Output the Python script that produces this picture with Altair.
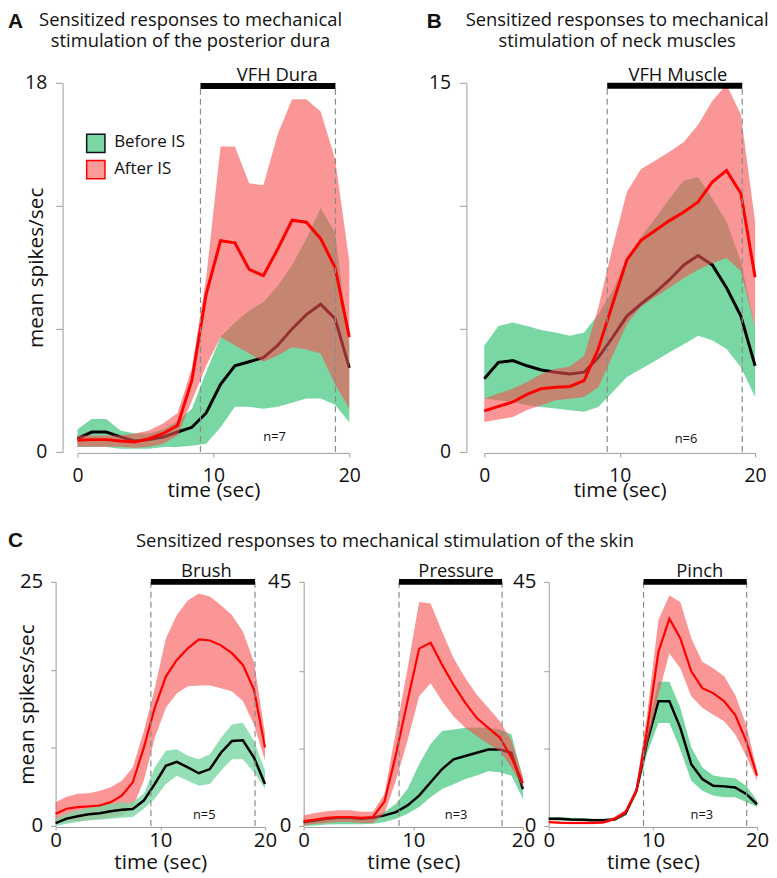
import altair as alt
import pandas as pd

# sample times (20 bins over 0-20 s)
TIME = [0.0, 1.05, 2.11, 3.16, 4.21, 5.26, 6.32, 7.37, 8.42, 9.47,
        10.53, 11.58, 12.63, 13.68, 14.74, 15.79, 16.84, 17.89, 18.95, 20.0]

# ---- Panel A: posterior dura ----
A_BEFORE_MEAN = [0.65, 0.97, 0.97, 0.73, 0.53, 0.6, 0.73, 0.97, 1.2, 1.9, 3.3, 4.2, 4.4, 4.6, 5.2, 6.0, 6.7, 7.2, 6.5, 4.1]
A_BEFORE_LO = [0.24, 0.24, 0.24, 0.16, 0.16, 0.16, 0.24, 0.24, 0.3, 0.4, 1.2, 2.2, 2.2, 2.1, 2.2, 2.4, 2.6, 2.6, 2.3, 1.45]
A_BEFORE_HI = [1.1, 1.6, 1.6, 1.05, 0.9, 0.9, 1.1, 1.5, 2.1, 3.9, 5.6, 6.3, 6.9, 7.3, 8.1, 9.1, 10.4, 11.9, 10.7, 5.2]
A_AFTER_MEAN = [0.57, 0.6, 0.6, 0.53, 0.48, 0.65, 0.9, 1.3, 3.5, 7.7, 10.3, 10.2, 8.9, 8.6, 9.9, 11.3, 11.2, 10.4, 9.0, 5.6]
A_AFTER_LO = [0.25, 0.25, 0.25, 0.25, 0.2, 0.25, 0.4, 0.8, 2.5, 4.2, 5.6, 5.2, 4.8, 4.4, 4.7, 5.1, 5.0, 4.8, 3.3, 2.1]
A_AFTER_HI = [0.8, 0.8, 0.8, 0.8, 0.9, 1.05, 1.4, 1.9, 4.1, 8.5, 14.9, 14.9, 13.1, 13.0, 15.5, 17.2, 17.2, 16.6, 14.3, 9.3]

# ---- Panel B: neck muscles ----
B_BEFORE_MEAN = [2.97, 3.64, 3.71, 3.5, 3.33, 3.24, 3.17, 3.24, 3.84, 4.65, 5.52, 6.02, 6.47, 7.0, 7.6, 7.98, 7.6, 6.67, 5.52, 3.5]
B_BEFORE_LO = [2.16, 2.1, 2.03, 1.9, 1.83, 1.76, 1.69, 1.63, 1.83, 2.43, 3.04, 3.37, 3.71, 4.05, 4.38, 4.72, 4.54, 4.18, 3.44, 2.23]
B_BEFORE_HI = [4.31, 5.12, 5.26, 5.12, 4.95, 4.85, 4.72, 4.85, 5.6, 6.53, 7.88, 8.75, 9.49, 10.3, 11.03, 11.17, 10.3, 9.35, 7.74, 5.05]
B_AFTER_MEAN = [1.67, 1.85, 2.03, 2.34, 2.57, 2.63, 2.66, 2.9, 4.18, 6.0, 7.8, 8.6, 9.0, 9.4, 9.75, 10.16, 10.97, 11.44, 10.5, 7.1]
B_AFTER_LO = [1.22, 1.32, 1.42, 1.7, 1.9, 2.1, 2.16, 2.23, 2.63, 3.9, 5.2, 5.9, 6.3, 6.67, 7.07, 7.4, 7.67, 7.88, 7.34, 5.05]
B_AFTER_HI = [2.16, 2.37, 2.57, 2.84, 3.17, 3.37, 3.47, 3.9, 5.86, 8.3, 10.56, 11.5, 11.84, 12.2, 12.6, 13.3, 14.26, 14.93, 13.7, 9.35]

# ---- Panel C: skin - Brush ----
BR_BEFORE_MEAN = [0.3, 0.75, 1.0, 1.2, 1.3, 1.5, 1.66, 1.73, 2.6, 4.3, 6.17, 6.57, 6.0, 5.4, 5.83, 7.5, 8.7, 8.77, 7.0, 4.3]
BR_BEFORE_LO = [0.0, 0.24, 0.4, 0.58, 0.64, 0.75, 0.85, 0.91, 1.76, 2.78, 4.3, 5.15, 4.64, 4.13, 4.3, 5.66, 6.84, 6.84, 5.5, 3.8]
BR_BEFORE_HI = [0.75, 1.25, 1.6, 1.86, 2.07, 2.27, 2.4, 2.44, 3.3, 6.0, 7.7, 7.86, 7.18, 6.84, 7.35, 9.0, 10.4, 10.57, 8.7, 5.66]
BR_AFTER_MEAN = [1.25, 1.76, 1.93, 2.0, 2.1, 2.44, 3.1, 4.47, 8.0, 12.1, 15.3, 17.0, 18.2, 19.1, 19.0, 18.5, 17.7, 16.5, 13.96, 8.03]
BR_AFTER_LO = [0.24, 0.4, 0.5, 0.58, 0.75, 0.9, 1.08, 1.93, 4.64, 9.0, 12.1, 13.6, 14.3, 14.4, 14.4, 14.1, 13.8, 12.8, 10.4, 6.7]
BR_AFTER_HI = [2.44, 3.0, 3.3, 3.35, 3.6, 3.96, 4.64, 6.0, 9.7, 14.1, 19.2, 21.6, 23.1, 23.8, 23.5, 22.6, 21.6, 19.9, 16.8, 9.5]

# ---- Panel C: skin - Pressure ----
PR_BEFORE_MEAN = [0.67, 1.0, 1.34, 1.5, 1.5, 1.34, 1.5, 1.95, 2.56, 3.8, 5.6, 8.05, 10.5, 12.3, 12.9, 13.5, 14.1, 14.1, 13.5, 6.8]
PR_BEFORE_LO = [0.0, 0.1, 0.25, 0.3, 0.3, 0.3, 0.43, 0.73, 1.34, 2.26, 3.5, 5.3, 6.8, 7.7, 8.66, 9.3, 10.1, 9.9, 9.3, 5.0]
PR_BEFORE_HI = [0.9, 1.3, 1.65, 1.77, 1.77, 1.65, 1.77, 2.56, 4.1, 6.8, 11.4, 15.1, 17.5, 17.8, 18.1, 18.1, 18.1, 17.8, 16.9, 8.7]
PR_AFTER_MEAN = [0.9, 1.2, 1.5, 1.65, 1.65, 1.5, 1.65, 4.5, 13.2, 23.0, 32.7, 33.8, 29.7, 26.0, 22.7, 19.9, 18.1, 16.3, 12.6, 7.9]
PR_AFTER_LO = [0.1, 0.4, 0.55, 0.73, 0.73, 0.55, 0.55, 2.3, 8.4, 15.7, 23.9, 26.3, 23.0, 20.2, 18.1, 16.6, 15.1, 13.8, 10.8, 7.1]
PR_AFTER_HI = [2.0, 2.4, 2.7, 2.9, 2.9, 2.6, 2.6, 5.9, 17.5, 29.0, 41.3, 41.0, 35.8, 30.9, 27.3, 24.2, 21.8, 19.3, 15.7, 9.0]

# ---- Panel C: skin - Pinch ----
PI_BEFORE_MEAN = [1.34, 1.34, 1.2, 1.16, 1.04, 1.04, 1.2, 2.26, 6.5, 15.7, 23.0, 23.0, 18.1, 11.4, 8.66, 7.4, 7.3, 7.1, 5.9, 4.0]
PI_BEFORE_LO = [1.1, 0.95, 0.9, 0.85, 0.8, 0.8, 0.9, 1.9, 5.8, 13.5, 19.0, 19.0, 14.1, 8.35, 6.5, 5.6, 5.3, 5.3, 4.4, 3.5]
PI_BEFORE_HI = [1.6, 1.6, 1.5, 1.45, 1.35, 1.35, 1.5, 2.6, 7.3, 18.0, 26.6, 26.6, 21.8, 14.5, 10.8, 9.3, 9.0, 8.8, 7.4, 4.7]
PI_AFTER_MEAN = [0.73, 0.6, 0.55, 0.55, 0.55, 0.65, 1.34, 2.56, 6.5, 18.1, 32.1, 38.2, 34.6, 28.5, 25.4, 24.5, 23.0, 20.5, 15.7, 9.3]
PI_AFTER_LO = [0.45, 0.35, 0.3, 0.3, 0.3, 0.4, 1.0, 2.1, 5.8, 15.0, 24.2, 31.8, 29.1, 23.9, 21.8, 20.5, 19.3, 16.9, 12.9, 8.35]
PI_AFTER_HI = [1.0, 0.85, 0.8, 0.8, 0.8, 0.9, 1.7, 3.0, 7.3, 21.0, 38.0, 42.5, 41.3, 34.6, 30.3, 29.1, 27.6, 24.2, 18.7, 10.2]

# stimulus windows: start, end, label, label centre, n label, n x, n y
STIM = {
    "A": (9.05, 18.98, "VFH Dura", 14.7, "n=7", 14.5, 0.73),
    "B": (9.08, 19.05, "VFH Muscle", 14.3, "n=6", 14.9, 0.52),
    "BR": (9.1, 19.05, "Brush", 14.4, "n=5", 14.2, 1.1),
    "PR": (8.7, 18.1, "Pressure", 13.9, "n=3", 13.9, 2.0),
    "PI": (9.1, 19.0, "Pinch", 14.5, "n=3", 14.7, 2.0),
}

TITLE_A = ["Sensitized responses to mechanical", "stimulation of the posterior dura"]
TITLE_B = ["Sensitized responses to mechanical", "stimulation of neck muscles"]
TITLE_C = "Sensitized responses to mechanical stimulation of the skin"
LEGEND = ["Before IS", "After IS"]

GREEN = "#79d7a3"
PINK = "#f75050"
PINK_SOLID = "#fa9a9a"
RED = "#ff0000"
AXIS_GRAY = "#9c9c9c"
DASH_GRAY = "#8a8a8a"
TXT = "#111111"
FONT = "Open Sans"
BOLD_FONT = "Liberation Sans"

ONE = pd.DataFrame({"k": [0]})


def text_layer(x, y, text, size, align="center", baseline="top", weight="normal",
               font=FONT, line_height=None):
    kw = dict(align=align, baseline=baseline, fontSize=size, fontWeight=weight,
              font=font, color=TXT)
    if line_height is not None:
        kw["lineHeight"] = line_height
    return alt.Chart(ONE).mark_text(**kw).encode(
        x=alt.value(x), y=alt.value(y), text=alt.value(text))


def panel(bm, blo, bhi, am, alo, ahi, ymax, yticks, stim_key, width, height,
          yoff, ytick, ylabpad, ytitle_x, xtick, xlabpad, xtitle_y, line_w,
          black_w, stim_y, label_size, green_on_top=False, extras=()):
    df = pd.DataFrame({"t": TIME, "bm": bm, "blo": blo, "bhi": bhi,
                       "am": am, "alo": alo, "ahi": ahi})
    xs = alt.Scale(domain=[0, 20], nice=False, zero=False)
    ys = alt.Scale(domain=[0, ymax], nice=False, zero=True)
    xaxis = alt.Axis(values=[0, 10, 20], title="time (sec)", offset=1,
                     tickSize=xtick, labelPadding=xlabpad, labelFlush=False,
                     labelOverlap=False, labelFontSize=label_size,
                     labelBaseline="alphabetic", titleBaseline="alphabetic",
                     titleY=xtitle_y)
    ykw = dict(values=yticks, offset=yoff, tickSize=ytick, labelPadding=ylabpad,
               labelFlush=False, labelOverlap=False, labelFontSize=label_size,
               labelExpr=f"datum.value == 0 || datum.value == {ymax} ? datum.label : ''")
    if ytitle_x is not None:
        ykw.update(title="mean spikes/sec", titleX=ytitle_x, titleY=height / 2)
    else:
        ykw["title"] = ""
    yaxis = alt.Axis(**ykw)

    def X(f):
        return alt.X(f, scale=xs, axis=xaxis)

    def Y(f):
        return alt.Y(f, scale=ys, axis=yaxis)

    base = alt.Chart(df)
    green = base.mark_area(color=GREEN, opacity=0.8 if green_on_top else 1).encode(
        x=X("t:Q"), y=Y("blo:Q"), y2="bhi:Q")
    pink = base.mark_area(color=PINK, opacity=0.6).encode(
        x=X("t:Q"), y=Y("alo:Q"), y2="ahi:Q")
    black = base.mark_line(color="black", strokeWidth=black_w).encode(
        x=X("t:Q"), y=Y("bm:Q"))
    red = base.mark_line(color=RED, strokeWidth=line_w).encode(
        x=X("t:Q"), y=Y("am:Q"))

    s0, s1, slabel, lx, ntext, nx, ny = STIM[stim_key]
    stim = pd.DataFrame({"x": [s0], "x2": [s1], "y": [stim_y], "lx": [lx],
                         "label": [slabel], "nx": [nx], "ny": [ny], "n": [ntext]})
    dash = pd.DataFrame({"x": [s0, s1], "y0": [0, 0], "y1": [stim_y, stim_y]})
    dashes = alt.Chart(dash).mark_rule(color=DASH_GRAY, strokeWidth=1.2,
                                       strokeDash=[6, 4]).encode(
        x=X("x:Q"), y=Y("y0:Q"), y2="y1:Q")
    bar = alt.Chart(stim).mark_rule(color="black", strokeWidth=6).encode(
        x=X("x:Q"), x2="x2:Q", y=Y("y:Q"))
    lab = alt.Chart(stim).mark_text(baseline="alphabetic", dy=-5, fontSize=18.5,
                                    font=FONT, color=TXT).encode(
        x=X("lx:Q"), y=Y("y:Q"), text="label:N")
    nlab = alt.Chart(stim).mark_text(baseline="middle", fontSize=13,
                                     font=FONT, color=TXT).encode(
        x=X("nx:Q"), y=Y("ny:Q"), text="n:N")

    if green_on_top:
        layers = [pink, green, black, red]
    else:
        layers = [green, black, pink, red]
    layers += [dashes, bar, lab, nlab] + list(extras)
    return alt.layer(*layers).properties(width=width, height=height)


def spacer(w, h):
    return alt.Chart(ONE).mark_point(opacity=0, size=1).encode(
        x=alt.value(0), y=alt.value(0)).properties(width=w, height=h)


# ---- extras (titles, letters, legend) ----
legend_layers = [
    alt.Chart(ONE).mark_square(size=340, fill=GREEN, stroke="#111111",
                               strokeWidth=1.5, opacity=1, filled=True).encode(
        x=alt.value(18.5), y=alt.value(61)),
    alt.Chart(ONE).mark_square(size=340, fill=PINK_SOLID, stroke=RED,
                               strokeWidth=1.5, opacity=1, filled=True).encode(
        x=alt.value(18.5), y=alt.value(87.5)),
    text_layer(37, 60, LEGEND[0], 17, align="left", baseline="middle"),
    text_layer(37, 87, LEGEND[1], 17, align="left", baseline="middle"),
]

A_extra = [
    text_layer(-70, -72, "A", 21, align="left", weight="bold", font=BOLD_FONT),
    text_layer(114, -72, TITLE_A, 18.5, line_height=21),
] + legend_layers
B_extra = [
    text_layer(-58, -72, "B", 21, align="left", weight="bold", font=BOLD_FONT),
    text_layer(134, -72, TITLE_B, 18.5, line_height=21),
]
C_extra = [
    text_layer(-48, -35, "C", 21, align="left", baseline="alphabetic",
               weight="bold", font=BOLD_FONT),
    text_layer(332, -35, TITLE_C, 18.5, baseline="alphabetic"),
]

pA = panel(A_BEFORE_MEAN, A_BEFORE_LO, A_BEFORE_HI, A_AFTER_MEAN, A_AFTER_LO, A_AFTER_HI,
           18, [0, 6, 12, 18], "A", 274, 372, 15, 7, 9, -16, 4, 25, 44, 3, 3, 17.85,
           19.5, extras=A_extra)
pB = panel(B_BEFORE_MEAN, B_BEFORE_LO, B_BEFORE_HI, B_AFTER_MEAN, B_AFTER_LO, B_AFTER_HI,
           15, [0, 5, 10, 15], "B", 273, 372, 18, 7, 9, None, 4, 25, 44, 3, 3, 14.88,
           19.5, extras=B_extra)
pBR = panel(BR_BEFORE_MEAN, BR_BEFORE_LO, BR_BEFORE_HI, BR_AFTER_MEAN, BR_AFTER_LO, BR_AFTER_HI,
            25, [0, 8, 16, 25], "BR", 211, 246, 0, 5, 8, -18, 3, 17, 42, 2.2, 2.5, 25,
            20.5, green_on_top=True, extras=C_extra)
pPR = panel(PR_BEFORE_MEAN, PR_BEFORE_LO, PR_BEFORE_HI, PR_AFTER_MEAN, PR_AFTER_LO, PR_AFTER_HI,
            45, [0, 14.2, 28.6, 45], "PR", 221, 246, 0, 5, 8, None, 3, 17, 42, 2.2, 2.5, 45,
            20.5)
pPI = panel(PI_BEFORE_MEAN, PI_BEFORE_LO, PI_BEFORE_HI, PI_AFTER_MEAN, PI_AFTER_LO, PI_AFTER_HI,
            45, [0, 14.2, 28.6, 45], "PI", 210, 246, 0, 5, 8, None, 3, 17, 42, 2.2, 2.5, 45,
            20.5)

top = alt.hconcat(spacer(22, 372), alt.hconcat(pA, pB, spacing=136, bounds="flush"),
                  spacing=0, bounds="flush")
bottom = alt.hconcat(pBR, alt.hconcat(pPR, pPI, spacing=26, bounds="flush"),
                     spacing=39, bounds="flush")

chart = alt.vconcat(top, bottom, spacing=30, bounds="full").properties(
    padding=0
).configure_view(strokeWidth=0).configure_axis(
    grid=False, domainColor=AXIS_GRAY, tickColor=AXIS_GRAY, domainWidth=1,
    labelFont=FONT, titleFont=FONT, labelColor=TXT, titleColor=TXT,
    labelFontSize=19.5, titleFontSize=21, titleFontWeight="normal"
)

chart.save("out.html", embed_options={"renderer": "svg", "actions": False})
